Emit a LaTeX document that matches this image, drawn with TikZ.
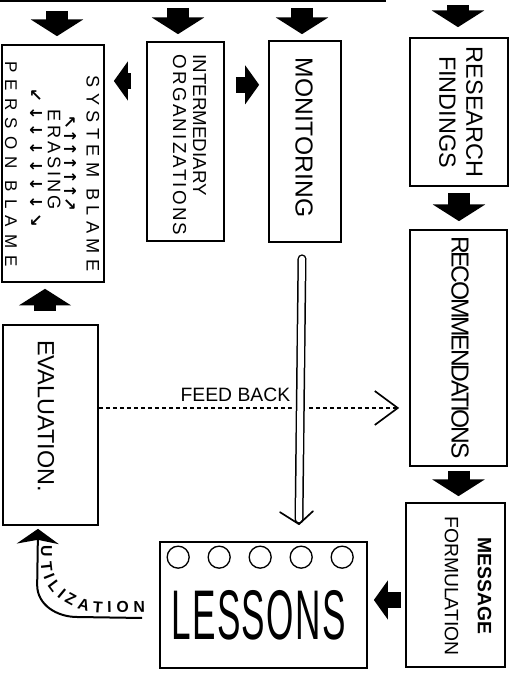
\documentclass[tikz,border=0pt]{standalone}
\usepackage{fontspec}
\setmainfont{Liberation Sans}
\newfontfamily\arrowfont{DejaVu Sans}
\usepackage{graphicx}
\usetikzlibrary{positioning,arrows.meta,calc,decorations.text}
\tikzset{
  >=Stealth,
  every node/.style={inner sep=0pt},
}

\begin{document}
\begin{tikzpicture}[x=0.3mm, y=0.3mm,
  box/.style={draw, line width=0.5mm},
  lbl/.style={rotate=-90, align=center},
  blk/.style={line width=6.6mm, -{Triangle[length=5mm,width=15.5mm]}},
  blkside/.style={line width=4.8mm, -{Triangle[length=4.2mm,width=11.5mm]}},
  feed/.style={line width=0.4mm, dash pattern=on 1.2mm off 0.9mm, -{Straight Barb[length=6.9mm,width=10.2mm,line width=0.5mm]}},
  pipe/.style={line width=0.45mm, double distance=1.8mm, line cap=round, preaction={draw=white, line width=5mm}},
  pipehead/.style={line width=0.5mm, line cap=round, line join=round},
  util/.style={line width=0.6mm, -{Stealth[length=4.5mm,width=12.6mm,inset=1.2mm]}},
  hole/.style={circle, draw, line width=0.4mm, minimum size=6.6mm}
]
  \useasboundingbox (0,0) rectangle (514,673);
  \draw[line width=0.9mm] (0,672.5) -- (386,672.5);

  \node[box, minimum width=30.6mm, minimum height=71.1mm] (sb) at (53,509.5) {};
  \node[box, minimum width=23.1mm, minimum height=59.7mm] (int) at (185.5,531.5) {};
  \node[box, minimum width=21.6mm, minimum height=60.3mm] (mon) at (305,531.5) {};
  \node[box, minimum width=29.4mm, minimum height=44.4mm] (rf) at (459,561) {};
  \node[box, minimum width=29.1mm, minimum height=70.8mm] (rec) at (458.5,325) {};
  \node[box, minimum width=29.7mm, minimum height=49.2mm] (mf) at (455.5,88) {};
  \node[box, minimum width=62.1mm, minimum height=37.8mm] (les) at (263.5,68) {};
  \node[box, minimum width=28.5mm, minimum height=60mm] (eval) at (50.5,248) {};

  \node[lbl, font=\fontsize{15.5}{16}\selectfont] (sb-1) at ($(sb)+(40,-10)$) {\addfontfeature{LetterSpace=30}SYSTEM BLAME};
  \node[lbl, font=\arrowfont\bfseries\fontsize{14}{16}\selectfont] (sb-2) at ($(sb)+(18,0)$) {↖↑↑↑↑↑↗};
  \node[lbl, font=\fontsize{15.5}{16}\selectfont] (sb-3) at ($(sb)+(1,3.5)$) {\addfontfeature{LetterSpace=17}ERASING};
  \node[lbl, font=\arrowfont\bfseries\fontsize{14}{16}\selectfont\addfontfeature{LetterSpace=25}] (sb-4) at ($(sb)+(-17,6)$) {↙↓↓↓↓↓↓↘};
  \node[lbl, font=\fontsize{14.5}{16}\selectfont] (sb-5) at ($(sb)+(-42,-0.5)$) {\addfontfeature{LetterSpace=42}PERSON BLAME};

  \node[lbl, align=left, font=\fontsize{16}{17}\selectfont] (int-t) at ($(int)+(4,-3.5)$) {INTERMEDIARY\\{\addfontfeature{LetterSpace=12}ORGANIZATIONS}};
  \node[lbl, font=\fontsize{21}{21}\selectfont] (mon-t) at ($(mon)+(-1,4)$) {MONITORING};
  \node[lbl, font=\fontsize{20}{23}\selectfont] (rf-t) at ($(rf)+(2,0)$) {RESEARCH\\FINDINGS};
  \node[lbl, font=\fontsize{21}{21}\selectfont\addfontfeature{LetterSpace=-9}] (rec-t) at ($(rec)+(1.5,0.5)$) {RECOMMENDATIONS};
  \node[lbl, font=\fontsize{16.5}{28}\selectfont] (mf-t) at ($(mf)+(12.5,-1)$) {\textbf{MESSAGE}\\FORMULATION};
  \node[lbl, font=\fontsize{20}{20}\selectfont] (eval-t) at ($(eval)+(-4.5,9)$) {EVALUATION.};
  \node (les-t) at ($(les)+(-5,-10)$) {\scalebox{0.5}[1]{\fontsize{60}{60}\selectfont\addfontfeature{LetterSpace=4}LESSONS}};
  \foreach \i in {0,...,4}
    \node[hole] (hole\i) at ($(les.north west)+(19+41*\i,-16)$) {};

  \coordinate (top1) at (57,662);
  \coordinate (top2) at (178,665);
  \coordinate (top3) at (302,665);
  \coordinate (top4) at (458,668);
  \draw[blk, shorten >=2.4mm] (top1) -- (top1 |- sb.north);
  \draw[blk, shorten >=2.1mm] (top2) -- (top2 |- int.north);
  \draw[blk, shorten >=1.8mm] (top3) -- (top3 |- mon.north);
  \draw[blk, shorten >=3mm] (top4) -- (top4 |- rf.north);

  \coordinate (l1) at ([yshift=18.15mm]int.west);
  \coordinate (r1) at ([yshift=17mm]int.east);
  \coordinate (m1) at ([yshift=-4.5mm]mf.west);
  \coordinate (e1) at ([xshift=-1.65mm]eval.north);
  \draw[blkside, shorten <=4.5mm, shorten >=2.7mm] (l1) -- (l1 -| sb.east);
  \draw[blkside, shorten <=3.3mm, shorten >=2.7mm] (r1) -- (r1 -| mon.west);
  \draw[blkside, shorten <=1.2mm, shorten >=1.8mm] (m1) -- (m1 -| les.east);
  \draw[blk, shorten <=3.9mm, shorten >=1.8mm] (e1) -- (e1 |- sb.south);
  \draw[blk, shorten <=1.8mm, shorten >=2.4mm] (rf.south) -- (rf.south |- rec.north);
  \draw[blk, shorten <=1.2mm, shorten >=1.8mm] (rec.south) -- (rec.south |- mf.north);

  \coordinate (fb) at ($(eval.east)+(0,17)$);
  \draw[feed, shorten >=3mm] (fb) -- (fb -| rec.west)
    node[pos=0.44, above=1.8mm, font=\fontsize{16.5}{16.5}\selectfont] (fb-t) {FEED BACK};

  \coordinate (ptop) at ($(mon.south)+(-3,-16)$);
  \coordinate (ptip) at ($(les.north)+(35.5,17)$);
  \draw[pipe] (ptop) -- ($(ptip)+(0,5)$);
  \draw[pipehead] ($(ptip)+(-19,12)$) -- (ptip) -- ($(ptip)+(14,13)$);

  \coordinate (ustart) at ($(les.west)+(-17,-13)$);
  \coordinate (uend) at ($(eval.south)+(-12.5,-3)$);
  \draw[util] (ustart) -- ++(-65,1) to[out=180,in=-90] ++(-40,32) -- (uend);
  \path[decorate, decoration={text along path, text={|\bfseries\fontsize{13.5}{14}\selectfont|UTILIZATION}, text align={fit to path}}]
    ($(eval.south)+(-9.5,-20)$) -- ++(0,-16) to[out=-90,in=180] ++(62,-51) -- ($(les.west)+(-14,-7)$);
\end{tikzpicture}
\end{document}
